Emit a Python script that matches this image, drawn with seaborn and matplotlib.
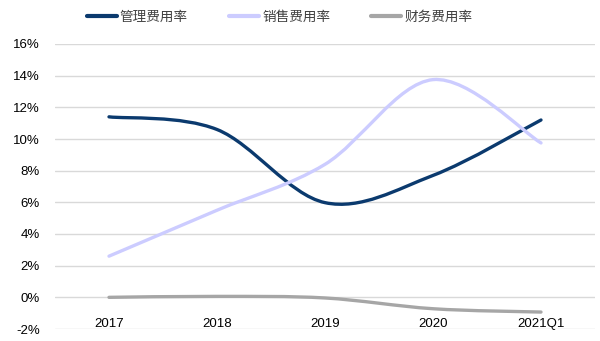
import numpy as np
import pandas as pd
import matplotlib
matplotlib.use("Agg")
import matplotlib.pyplot as plt
import seaborn as sns
from matplotlib.path import Path
from matplotlib.patches import PathPatch
from matplotlib.ticker import FuncFormatter

categories = ["2017", "2018", "2019", "2020", "2021Q1"]
admin_rate = [11.4, 10.6, 5.98, 7.7, 11.2]
sales_rate = [2.6, 5.5, 8.4, 13.75, 9.75]
finance_rate = [0.0, 0.06, -0.04, -0.72, -0.93]
series_names = ["管理费用率", "销售费用率", "财务费用率"]
colors = ["#0B3A6E", "#CCCCFF", "#A6A6A6"]
y_ticks = [-2, 0, 2, 4, 6, 8, 10, 12, 14, 16]

sns.set_theme(style="white")
plt.rcParams["font.family"] = ["Liberation Sans", "Noto Sans CJK SC", "DejaVu Sans"]

rows = []
for name, vals in zip(series_names, [admin_rate, sales_rate, finance_rate]):
    for i, v in enumerate(vals):
        rows.append({"pos": i, "value": v, "series": name})
df = pd.DataFrame(rows)

fig = plt.figure(figsize=(6.0, 3.41), dpi=100)
ax = fig.add_axes([55 / 600, 1 - 329 / 341, 540 / 600, (329 - 44) / 341])

sns.lineplot(data=df, x="pos", y="value", hue="series", hue_order=series_names,
             palette=colors, linewidth=2.4, legend=False, ax=ax, sort=False)


def smooth_path(x, y):
    pts = np.column_stack([x, y])
    n = len(pts)
    verts = [pts[0]]
    codes = [Path.MOVETO]
    for i in range(n - 1):
        p0 = pts[i - 1] if i > 0 else pts[i]
        p1 = pts[i]
        p2 = pts[i + 1]
        p3 = pts[i + 2] if i + 2 < n else pts[i + 1]
        c1 = p1 + (p2 - p0) / 6.0
        c2 = p2 - (p3 - p1) / 6.0
        verts += [c1, c2, p2]
        codes += [Path.CURVE4] * 3
    return Path(verts, codes)


lines = list(ax.lines)
leg = fig.legend(handles=lines, labels=series_names, loc="center",
                 bbox_to_anchor=(0.466, 0.95), ncol=3, frameon=False,
                 handlelength=2.2, handletextpad=0.25, columnspacing=3.0,
                 prop={"family": ["Noto Sans CJK SC"], "size": 9.8})
for lh in leg.get_lines():
    lh.set_linewidth(3.0)
for text in leg.get_texts():
    text.set_color("#404040")

for ln in lines:
    x = ln.get_xdata()
    y = ln.get_ydata()
    patch = PathPatch(smooth_path(x, y), facecolor="none", edgecolor=ln.get_color(),
                      linewidth=2.4, capstyle="round", joinstyle="round", zorder=3)
    ax.add_patch(patch)
    ln.set_visible(False)

ax.set_xlim(-0.5, 4.5)
ax.set_ylim(-2, 16)
ax.set_yticks(y_ticks)
ax.yaxis.set_major_formatter(FuncFormatter(lambda v, p: f"{v:.0f}%"))
ax.set_xticks(range(len(categories)))
ax.set_xticklabels(categories)
ax.set_xlabel("")
ax.set_ylabel("")
ax.grid(axis="y", color="#D9D9D9", linewidth=1.0)
ax.grid(axis="x", visible=False)
for s in ax.spines.values():
    s.set_visible(False)
ax.spines["bottom"].set_position(("data", 0))
ax.tick_params(axis="x", length=0, pad=15, labelsize=9.5, labelcolor="#000000")
ax.tick_params(axis="y", length=0, pad=11, labelsize=9.5, labelcolor="#000000")
ax.set_axisbelow(True)

fig.savefig("out.png", dpi=100)
